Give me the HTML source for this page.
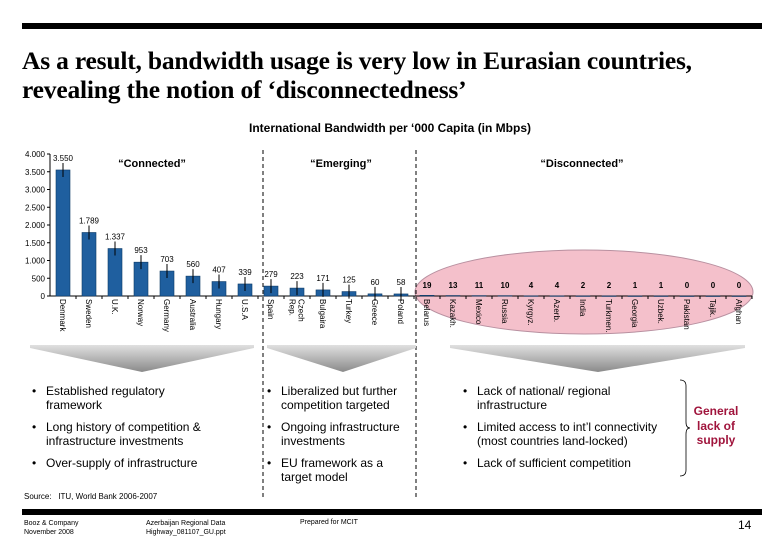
<!DOCTYPE html>
<html><head><meta charset="utf-8">
<style>
body{margin:0;background:#fff;}
#page{position:relative;width:780px;height:540px;overflow:hidden;background:#fff;font-family:"Liberation Sans",Arial,sans-serif;}
.abs{position:absolute;}
.title{left:22px;top:46px;font-family:"Liberation Serif",serif;font-size:25.5px;font-weight:bold;line-height:29px;color:#000;letter-spacing:-0.2px;white-space:nowrap;}
.bl{font-size:12px;line-height:14px;color:#000;}
.bl span.b{position:absolute;left:-14px;}
</style></head>
<body>
<div id="page">
<div class="abs" style="left:22px;top:23px;width:740px;height:6px;background:#000"></div>
<div class="abs title">As a result, bandwidth usage is very low in Eurasian countries,<br>revealing the notion of ‘disconnectedness’</div>
<div class="abs" style="left:0;width:780px;top:121px;text-align:center;font-size:12px;font-weight:bold">International Bandwidth per ‘000 Capita (in Mbps)</div>

<svg class="abs" style="left:0;top:0" width="780" height="540" id="chart">
<defs><linearGradient id="chev" x1="0" y1="0" x2="0" y2="1"><stop offset="0" stop-color="#e0e0e0"/><stop offset="1" stop-color="#8a8a8a"/></linearGradient></defs>
</svg>

<div class="abs bl" style="left:46px;top:384px"><span class="b">•</span>Established regulatory<br>framework</div>
<div class="abs bl" style="left:46px;top:420px"><span class="b">•</span>Long history of competition &amp;<br>infrastructure investments</div>
<div class="abs bl" style="left:46px;top:456px"><span class="b">•</span>Over-supply of infrastructure</div>
<div class="abs bl" style="left:281px;top:384px"><span class="b">•</span>Liberalized but further<br>competition targeted</div>
<div class="abs bl" style="left:281px;top:420px"><span class="b">•</span>Ongoing infrastructure<br>investments</div>
<div class="abs bl" style="left:281px;top:456px"><span class="b">•</span>EU framework as a<br>target model</div>
<div class="abs bl" style="left:477px;top:384px"><span class="b">•</span>Lack of national/ regional<br>infrastructure</div>
<div class="abs bl" style="left:477px;top:420px"><span class="b">•</span>Limited access to int’l connectivity<br>(most countries land-locked)</div>
<div class="abs bl" style="left:477px;top:456px"><span class="b">•</span>Lack of sufficient competition</div>
<div class="abs" style="left:686px;top:404px;width:60px;text-align:center;font-size:12px;font-weight:bold;line-height:14.5px;color:#a0143c">General<br>lack of<br>supply</div>
<div class="abs" style="left:24px;top:492px;font-size:8px">Source:&nbsp;&nbsp; ITU, World Bank 2006-2007</div>
<div class="abs" style="left:22px;top:509px;width:740px;height:6px;background:#000"></div>
<div class="abs" style="left:24px;top:519px;font-size:7px;line-height:9px">Booz &amp; Company<br>November 2008</div>
<div class="abs" style="left:146px;top:519px;font-size:7px;line-height:9px">Azerbaijan Regional Data<br>Highway_081107_GU.ppt</div>
<div class="abs" style="left:300px;top:519px;font-size:7px">Prepared for MCIT</div>
<div class="abs" style="left:738px;top:518px;font-size:12px">14</div>
</div>
<script>
const categories=["Denmark","Sweden","U.K.","Norway","Germany","Australia","Hungary","U.S.A","Spain","Czech|Rep.","Bulgaira","Turkey","Greece","Poland","Belarus","Kazakh.","Mexico","Russia","Kyrgyz.","Azerb.","India","Turkmen.","Georgia","Uzbek.","Pakistan","Tajik.","Afghan"];
const values=[3550,1789,1337,953,703,560,407,339,279,223,171,125,60,58,19,13,11,10,4,4,2,2,1,1,0,0,0];
const valueLabels=["3.550","1.789","1.337","953","703","560","407","339","279","223","171","125","60","58","19","13","11","10","4","4","2","2","1","1","0","0","0"];
const yTicks=[0,500,1000,1500,2000,2500,3000,3500,4000];
const yTickLabels=["0","500","1.000","1.500","2.000","2.500","3.000","3.500","4.000"];
const NS="http://www.w3.org/2000/svg";
const svg=document.getElementById('chart');
const y0=296,yTop=154,x0=50,step=26,firstX=63;
const yScale=v=>y0-(v/4000)*(y0-yTop);
const xScale=i=>firstX+i*step;
function mk(t,a,p){const e=document.createElementNS(NS,t);for(const k in a)e.setAttribute(k,a[k]);(p||svg).appendChild(e);return e;}
let el=mk('ellipse',{cx:584,cy:292,rx:169,ry:42,fill:'#f4c0cb',stroke:'#b890a0','stroke-width':1});


[263,416].forEach((x,i)=>{const l=mk('line',{x1:x,x2:x,y1:150,y2:497,stroke:'#000','stroke-width':1,'stroke-dasharray':'4,3'});

});
[[30,254,142],[267,416,343],[450,745,598]].forEach(c=>{const p=mk('polygon',{points:`${c[0]},345 ${c[1]},345 ${c[1]},348 ${c[2]},372 ${c[0]},348`,fill:'url(#chev)'});

});
let br=mk('path',{d:'M680,380 Q686,380 686,386 L686,422 Q686,428 690,428 Q686,428 686,434 L686,470 Q686,476 680,476',fill:'none',stroke:'#000','stroke-width':0.8});


let ya=mk('line',{x1:x0,x2:x0,y1:yTop,y2:y0,stroke:'#000'});


yTicks.forEach((v,i)=>{const y=yScale(v);mk('line',{x1:x0-3,x2:x0,y1:y,y2:y,stroke:'#000'});
const t=mk('text',{x:x0-5,y:y+3,'text-anchor':'end','font-size':8,'font-family':'Liberation Sans, Arial, sans-serif'});t.textContent=yTickLabels[i];

});
let xa=mk('line',{x1:x0,x2:xScale(categories.length-1)+13,y1:y0,y2:y0,stroke:'#000'});


categories.forEach((c,i)=>{const xt=xScale(i)+13;mk('line',{x1:xt,x2:xt,y1:y0,y2:y0+3,stroke:'#000'});});
values.forEach((v,i)=>{const x=xScale(i),y=yScale(v);
const r=mk('rect',{x:x-7,y:y,width:14,height:Math.max(y0-y,0.5),fill:'#1f5f9f',stroke:'#0d3a66','stroke-width':0.6});


if(i<14){mk('line',{x1:x,x2:x,y1:y-7,y2:y+7,stroke:'#000','stroke-width':1});}
const ly=i<14?y-9:288;
const t=mk('text',{x:x,y:ly,'text-anchor':'middle','font-size':8,'font-weight':i>=14?'bold':'normal','font-family':'Liberation Sans, Arial, sans-serif'});t.textContent=valueLabels[i];


const g=mk('g',{transform:`translate(${x},${y0+3}) rotate(90)`});
const parts=categories[i].split('|');
parts.forEach((p,j)=>{const ct=mk('text',{x:0,y:3-(parts.length-1)*4.5+j*9,'font-size':8,'font-family':'Liberation Sans, Arial, sans-serif'},g);ct.textContent=p;

});
});
[["“Connected”",152],["“Emerging”",341],["“Disconnected”",582]].forEach(g=>{const t=mk('text',{x:g[1],y:167,'text-anchor':'middle','font-size':11,'font-weight':'bold','font-family':'Liberation Sans, Arial, sans-serif'});t.textContent=g[0];

});
</script>
</body></html>
